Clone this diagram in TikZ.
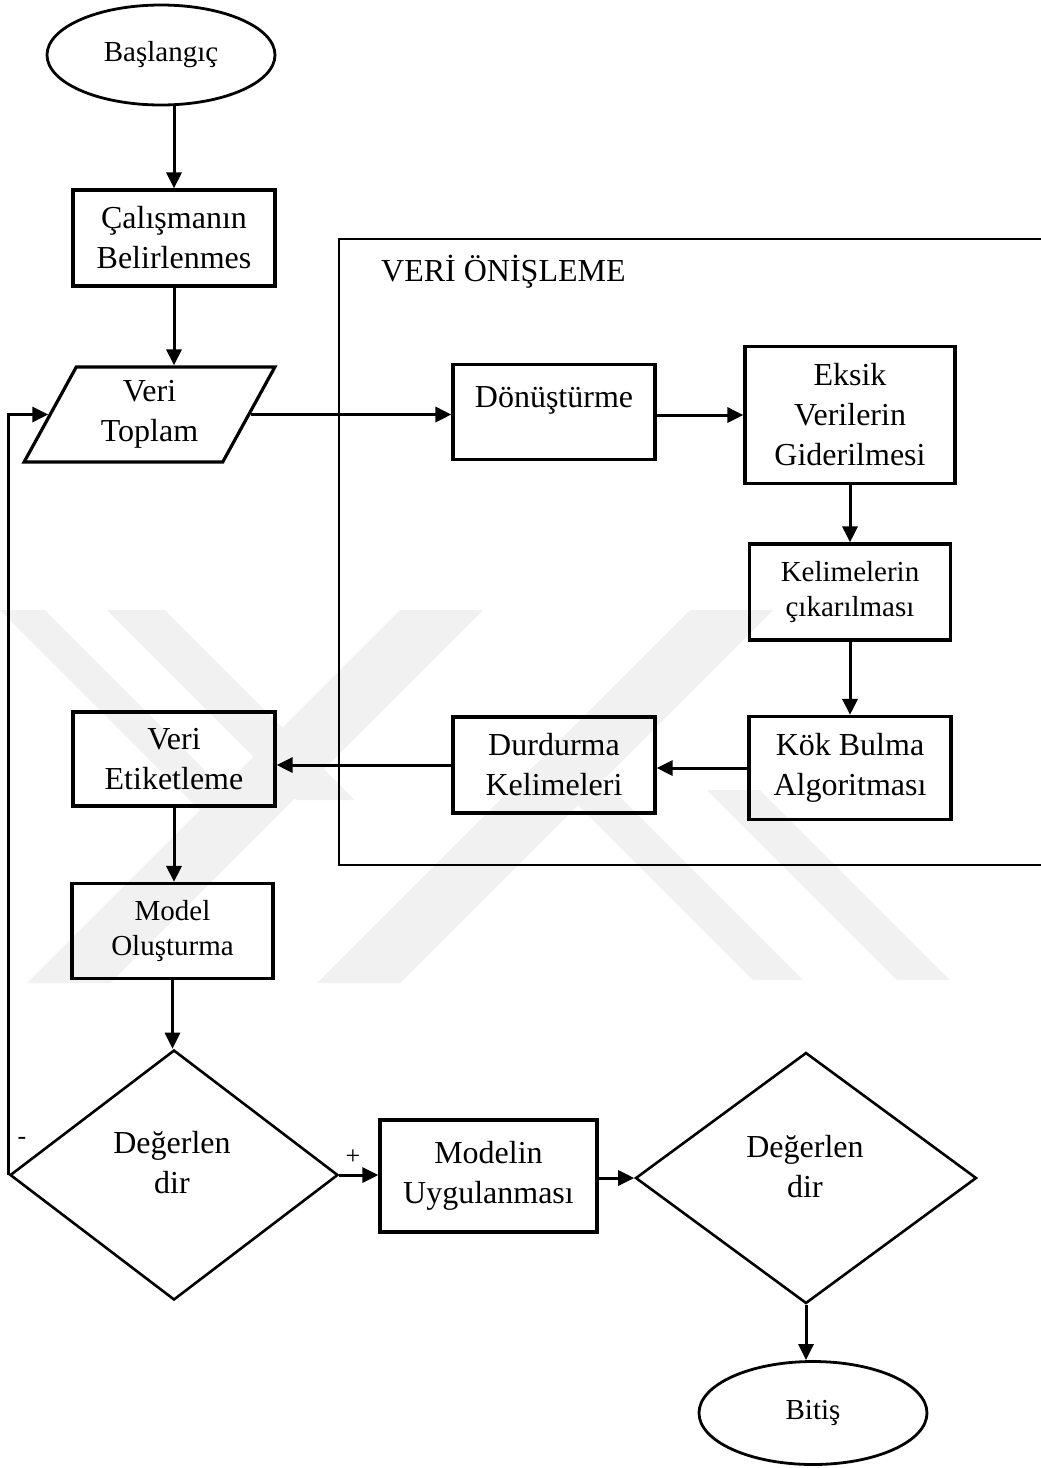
\documentclass[tikz,border=0pt]{standalone}
\usepackage{fontspec}
\setmainfont{Liberation Serif}
\usetikzlibrary{arrows.meta,shapes.geometric}
\definecolor{wm}{RGB}{241,241,241}
\newcommand\fa{\fontsize{32}{40}\selectfont}
\newcommand\fb{\fontsize{29}{35}\selectfont}
\tikzset{
  boxnode/.style={draw, line width=3.2pt, rectangle, inner sep=0pt, align=center, font=\fa},
  ovalnode/.style={draw, line width=2.8pt, ellipse, inner sep=0pt, align=center, font=\fb},
  decnode/.style={draw, line width=2.6pt, diamond, inner sep=0pt},
  txt/.style={inner sep=0pt, align=center, font=\fa},
  arr/.style={line width=3pt, -{Triangle[length=16pt,width=15pt]}},
}
\begin{document}
\begin{tikzpicture}[x=1pt,y=-1pt]
\useasboundingbox (0,0) rectangle (1041,1468);
\fill[white] (0,0) rectangle (1041,1468);
% watermark
\begin{scope}[wm]
\fill (400,610) -- (483,610) -- (110,983) -- (27,983) -- cycle;
\fill (690,610) -- (773,610) -- (400,983) -- (317,983) -- cycle;
\fill (0,610) -- (45,610) -- (265,830) -- (220,830) -- (0,610) -- cycle;
\fill (107,610) -- (165,610) -- (355,800) -- (297,800) -- cycle;
\fill (563,790) -- (613,790) -- (803,980) -- (753,980) -- cycle;
\fill (707,790) -- (760,790) -- (950,980) -- (897,980) -- cycle;
\end{scope}
% frame
\draw[line width=2.4pt] (1041,239) -- (339,239) -- (339,865) -- (1041,865);
\node[txt, anchor=west] (frametitle) at (381,272) {VERİ ÖNİŞLEME};
% nodes
\node[ovalnode, minimum width=228pt, minimum height=100pt] (bas) at (161,55) {Başlangıç};
\node[boxnode, minimum width=202pt, minimum height=96pt] (calis) at (174,238) {Çalışmanın\\Belirlenmes};
\node[draw, line width=3.2pt, trapezium, trapezium left angle=63, trapezium right angle=117,
      trapezium stretches=true, minimum width=251pt, minimum height=95pt, inner sep=0pt,
      align=center, font=\fa] (toplam) at (149.5,414.5) {Veri\\Toplam};
\node[boxnode, minimum width=202pt, minimum height=95pt, text depth=30pt] (donus) at (554,412) {Dönüştürme};
\node[boxnode, minimum width=210pt, minimum height=137pt] (eksik) at (850,415) {Eksik\\Verilerin\\Giderilmesi};
\node[boxnode, font=\fb, minimum width=201pt, minimum height=96pt] (kelime) at (850,592) {Kelimelerin\\çıkarılması};
\node[boxnode, minimum width=202pt, minimum height=103pt] (kok) at (850,768) {Kök Bulma\\Algoritması};
\node[boxnode, minimum width=202pt, minimum height=96pt] (durd) at (554,765) {Durdurma\\Kelimeleri};
\node[boxnode, minimum width=202pt, minimum height=94pt] (etiket) at (174,759) {Veri\\Etiketleme};
\node[boxnode, font=\fb, minimum width=201pt, minimum height=95pt] (olus) at (172.5,931) {Model\\Oluşturma};
\node[decnode, minimum width=328pt, minimum height=250pt] (d1) at (174,1175) {};
\node[txt] (d1t) at (172,1163) {Değerlen\\dir};
\node[boxnode, minimum width=217pt, minimum height=112pt] (uyg) at (488.5,1176) {Modelin\\Uygulanması};
\node[decnode, minimum width=341pt, minimum height=251pt] (d2) at (806,1178) {};
\node[txt] (d2t) at (805,1167) {Değerlen\\dir};
\node[ovalnode, minimum width=228pt, minimum height=103pt] (bitis) at (813,1413) {Bitiş};
\node[inner sep=0pt, font=\fontsize{26}{26}\selectfont] (minus) at (22,1141) {-};
\node[inner sep=0pt, font=\fontsize{26}{26}\selectfont] (plus) at (353,1157) {+};
% connectors
\draw[arr] (calis.north |- bas.south) -- (calis.north);
\draw[arr] (calis.south) -- (calis.south |- toplam.north);
\draw[arr] (toplam.east) -- (toplam.east -| donus.west);
\draw[arr] (donus.east |- eksik.west) -- (eksik.west);
\draw[arr] (eksik.south) -- (kelime.north);
\draw[arr] (kelime.south) -- (kok.north);
\draw[arr] (kok.west) -- (kok.west -| durd.east);
\draw[arr] (durd.west) -- (durd.west -| etiket.east);
\draw[arr] (etiket.south) -- (etiket.south |- olus.north);
\draw[arr] (olus.south) -- (olus.south |- d1.north);
\draw[arr] (d1.east) -- (d1.east -| uyg.west);
\draw[arr] (uyg.east |- d2.west) -- (d2.west);
\draw[arr] (d2.south) -- (d2.south |- bitis.north);
\draw[arr] (d1.west) |- (toplam.west);
\end{tikzpicture}
\end{document}
